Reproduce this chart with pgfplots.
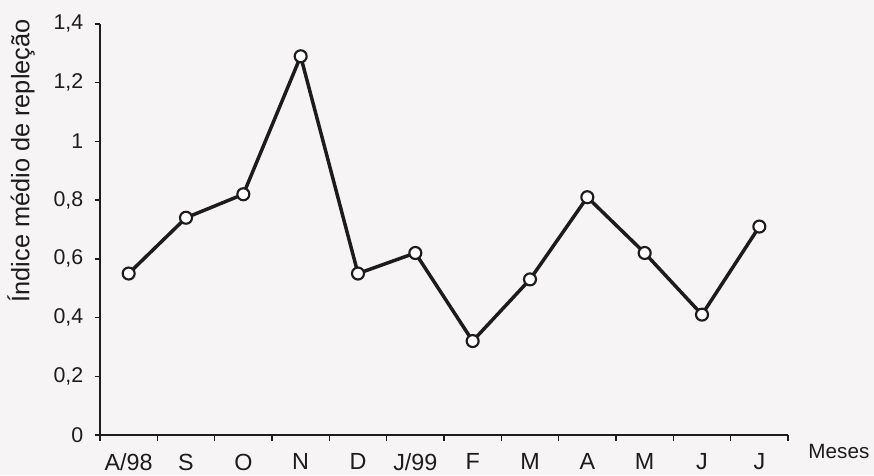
\documentclass[border=0pt]{standalone}
\usepackage{fontspec}
\setmainfont{Liberation Sans}
\usepackage{pgfplots}
\pgfplotsset{compat=1.18}
\definecolor{ink}{RGB}{28,28,28}
\definecolor{paper}{RGB}{246,244,244}
\begin{document}
\begin{tikzpicture}
\useasboundingbox[fill=paper] (0,0) rectangle (655.5pt,356.25pt);
\begin{axis}[
  at={(75pt,30pt)}, anchor=south west,
  scale only axis, width=516pt, height=308.25pt,
  xmin=-0.5, xmax=11.5, ymin=0, ymax=1.4,
  axis x line=bottom, axis y line=left,
  axis line style={-, ink, line width=1pt},
  /pgf/number format/assume math mode=true,
  /pgf/number format/use comma,
  /pgf/number format/fixed,
  /pgf/number format/precision=1,
  xtick={0,1,2,3,4,5,6,7,8,9,10,11},
  xticklabels={A/98,S,O,N,D,J/99,F,M,A,M,J,J},
  major x tick style={draw=none},
  minor xtick={-0.5,0.5,1.5,2.5,3.5,4.5,5.5,6.5,7.5,8.5,9.5,10.5,11.5},
  ytick={0,0.2,0.4,0.6,0.8,1,1.2,1.4},
  tick align=outside,
  tick style={ink, line width=1pt},
  major tick length=4pt, minor tick length=4.5pt,
  xticklabel style={font=\fontsize{17.5}{19}\selectfont, text=ink, yshift=-6.5pt},
  yticklabel style={font=\fontsize{16}{18}\selectfont, text=ink, xshift=-5pt},
  ylabel={Índice médio de repleção},
  ylabel style={at={(axis description cs:-0.1148,0.667)}, anchor=center, font=\fontsize{19}{21}\selectfont, text=ink},
  xlabel={Meses},
  xlabel style={at={(axis description cs:1.074,-0.04)}, anchor=center, font=\fontsize{15.5}{17}\selectfont, text=ink},
  clip=false,
]
\addplot[ink, line width=2.6pt, mark=*, mark size=4.5pt,
  mark options={fill=white, draw=ink, line width=1.6pt}]
  coordinates {
  (0,0.55) (1,0.74) (2,0.82) (3,1.29) (4,0.55) (5,0.62)
  (6,0.32) (7,0.53) (8,0.81) (9,0.62) (10,0.41) (11,0.71)
  };
\end{axis}
\end{tikzpicture}
\end{document}
